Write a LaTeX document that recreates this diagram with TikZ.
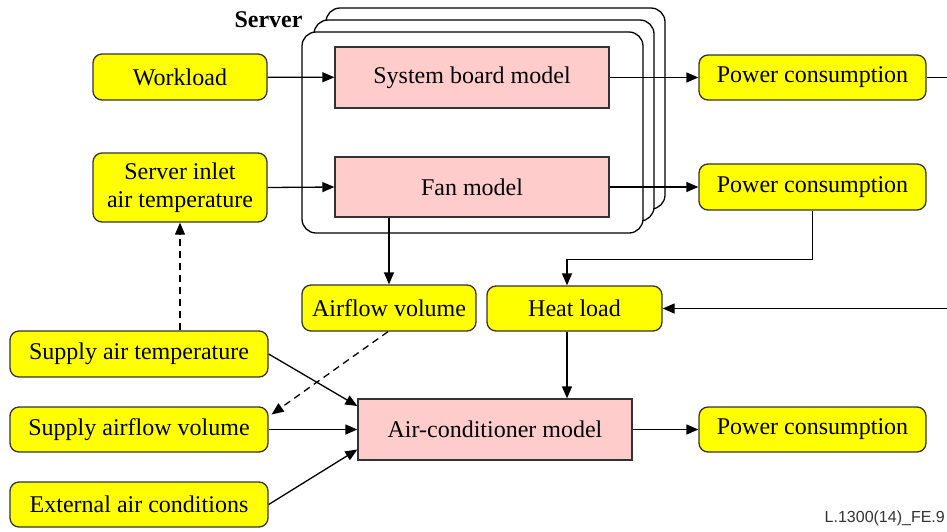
\documentclass[tikz,border=0pt]{standalone}
\usepackage{fontspec}
\setmainfont{Liberation Serif}
\newfontfamily\footfont{Liberation Sans}
\usetikzlibrary{arrows.meta,calc}
\definecolor{boxyel}{HTML}{FFFF00}
\definecolor{boxpink}{HTML}{FFCCCC}
\definecolor{edge}{HTML}{333333}
\tikzset{
  ybox/.style={draw=edge,line width=1.3pt,fill=boxyel,rounded corners=9pt,inner sep=0pt,align=center,font=\fontsize{24}{28}\selectfont},
  pbox/.style={draw=edge,line width=1.3pt,fill=boxpink,inner sep=0pt,align=center,font=\fontsize{24}{28}\selectfont},
  frame/.style={draw=black,line width=1.3pt,fill=white,rounded corners=14pt},
  arr/.style={line width=1.3pt,-{Triangle[length=12pt,width=10pt]}},
  ln/.style={line width=1.3pt},
}
\begin{document}
\begin{tikzpicture}[x=1pt,y=-1pt]
\useasboundingbox (0,0) rectangle (947,531);
% server frames
\draw[frame] (326,8) rectangle (665,209);
\draw[frame] (314,20) rectangle (654,221);
\draw[frame] (302,32) rectangle (643,233);
\node[font=\bfseries\fontsize{24}{28}\selectfont] (srv) at (268.5,20) {Server};
% nodes
\node[ybox,minimum width=174pt,minimum height=46pt] (work) at (180,77) {Workload};
\node[ybox,minimum width=174pt,minimum height=69pt] (inlet) at (180,187.5) {Server inlet\\air temperature};
\node[pbox,minimum width=274pt,minimum height=61pt] (sys) at (472,77.5) {System board model};
\node[pbox,minimum width=274pt,minimum height=60pt] (fan) at (472,187) {Fan model};
\node[ybox,minimum width=227pt,minimum height=45pt] (pc1) at (812.5,77.5) {Power consumption};
\node[ybox,minimum width=227pt,minimum height=46pt] (pc2) at (812.5,187) {Power consumption};
\node[ybox,minimum width=174pt,minimum height=46pt] (air) at (389,308) {Airflow volume};
\node[ybox,minimum width=175pt,minimum height=45pt] (heat) at (574.5,308.5) {Heat load};
\node[ybox,minimum width=258pt,minimum height=46pt] (sat) at (139,354) {Supply air temperature};
\node[ybox,minimum width=258pt,minimum height=45pt] (sav) at (139,429.5) {Supply airflow volume};
\node[ybox,minimum width=258pt,minimum height=45pt] (ext) at (139,504.5) {External air conditions};
\node[pbox,minimum width=274pt,minimum height=61pt] (ac) at (495,429.5) {Air-conditioner model};
\node[ybox,minimum width=227pt,minimum height=45pt] (pc3) at (812.5,429.5) {Power consumption};
\node[font=\footfont\fontsize{16}{18}\selectfont,text=black!80,anchor=south east,inner sep=0pt] (fig) at (945,526) {L.1300(14)\_FE.9};
\coordinate (r1) at (947,77.5);
\coordinate (r2) at (947,308.5);
% connectors
\draw[arr] (work) -- (sys);
\draw[arr] (inlet.east) -- (fan.west);
\draw[arr] (sys) -- (pc1);
\draw[arr] (fan) -- (pc2);
\draw[ln] (pc1.east) -- (r1);
\draw[arr] (r2) -- (heat.east);
\draw[arr] (pc2.south) -- ++(0,49) -| ([xshift=-7.5pt]heat.north);
\draw[arr] (fan.south -| air.north) -- (air.north);
\draw[arr] ([xshift=-7.5pt]heat.south) -- ([xshift=-7.5pt]heat.south |- ac.north);
\draw[arr,dashed,dash pattern=on 7pt off 5pt] (sat.north -| inlet.south) -- (inlet.south);
\draw[arr,dashed,dash pattern=on 7pt off 5pt] ([xshift=-1pt]air.south) -- ([xshift=3pt,yshift=-8pt]sav.north east);
\draw[arr] (sat.east) -- ([yshift=23.5pt]ac.west);
\draw[arr] (sav.east) -- (ac.west);
\draw[arr] (ext.east) -- ([yshift=-20pt]ac.west);
\draw[arr] (ac) -- (pc3);
\end{tikzpicture}
\end{document}
